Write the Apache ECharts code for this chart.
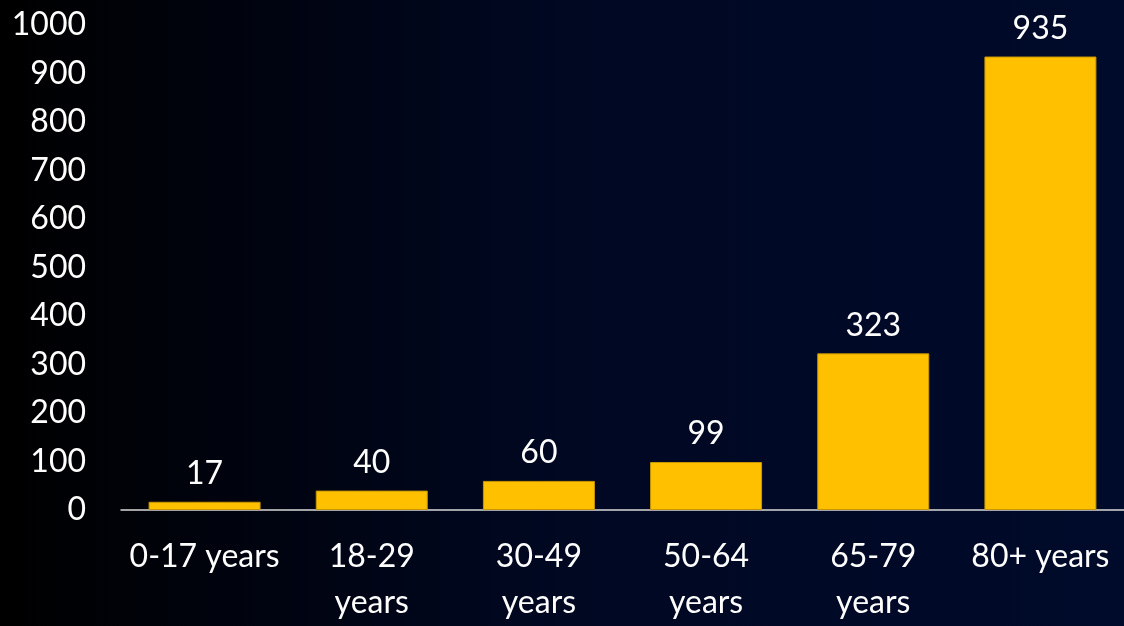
<!DOCTYPE html>
<html><head><meta charset="utf-8">
<script src="https://cdn.jsdelivr.net/npm/echarts@6/dist/echarts.min.js"></script>
<style>html,body{margin:0;padding:0;background:#000;}#c{width:1124px;height:626px;}</style>
</head><body><div id="c"></div>
<script>
const categories = ['0-17 years', '18-29\nyears', '30-49\nyears', '50-64\nyears', '65-79\nyears', '80+ years'];
const values = [17, 40, 60, 99, 323, 935];
const yMin = 0, yMax = 1000, yStep = 100;

const FONT = 'Lato';
const chart = echarts.init(document.getElementById('c'));
chart.setOption({
  animation: false,
  backgroundColor: {type: 'linear', x: 0, y: 0, x2: 1, y2: 0,
    colorStops: [{offset: 0, color: '#000000'}, {offset: 0.5, color: '#000822'}, {offset: 1, color: '#000a2a'}]},
  grid: {left: 121, top: 25, width: 1014, bottom: 112, containLabel: false},
  xAxis: {
    type: 'category', data: categories,
    axisLine: {lineStyle: {color: '#d9d9d9', width: 1.5}},
    axisTick: {show: false},
    axisLabel: {color: '#ffffff', fontFamily: FONT, fontSize: 32, margin: 24, lineHeight: 46, interval: 0}
  },
  yAxis: {
    type: 'value', min: yMin, max: yMax, interval: yStep,
    splitLine: {show: false}, axisLine: {show: false}, axisTick: {show: false},
    axisLabel: {color: '#ffffff', fontFamily: FONT, fontSize: 32, margin: 35, formatter: v => String(v)}
  },
  series: [{
    type: 'bar', data: values, barWidth: '67%',
    itemStyle: {color: '#ffc000', borderColor: '#c79600', borderWidth: 1},
    label: {show: true, position: 'top', distance: 12, color: '#ffffff', fontFamily: FONT, fontSize: 32}
  }]
});
</script></body></html>
